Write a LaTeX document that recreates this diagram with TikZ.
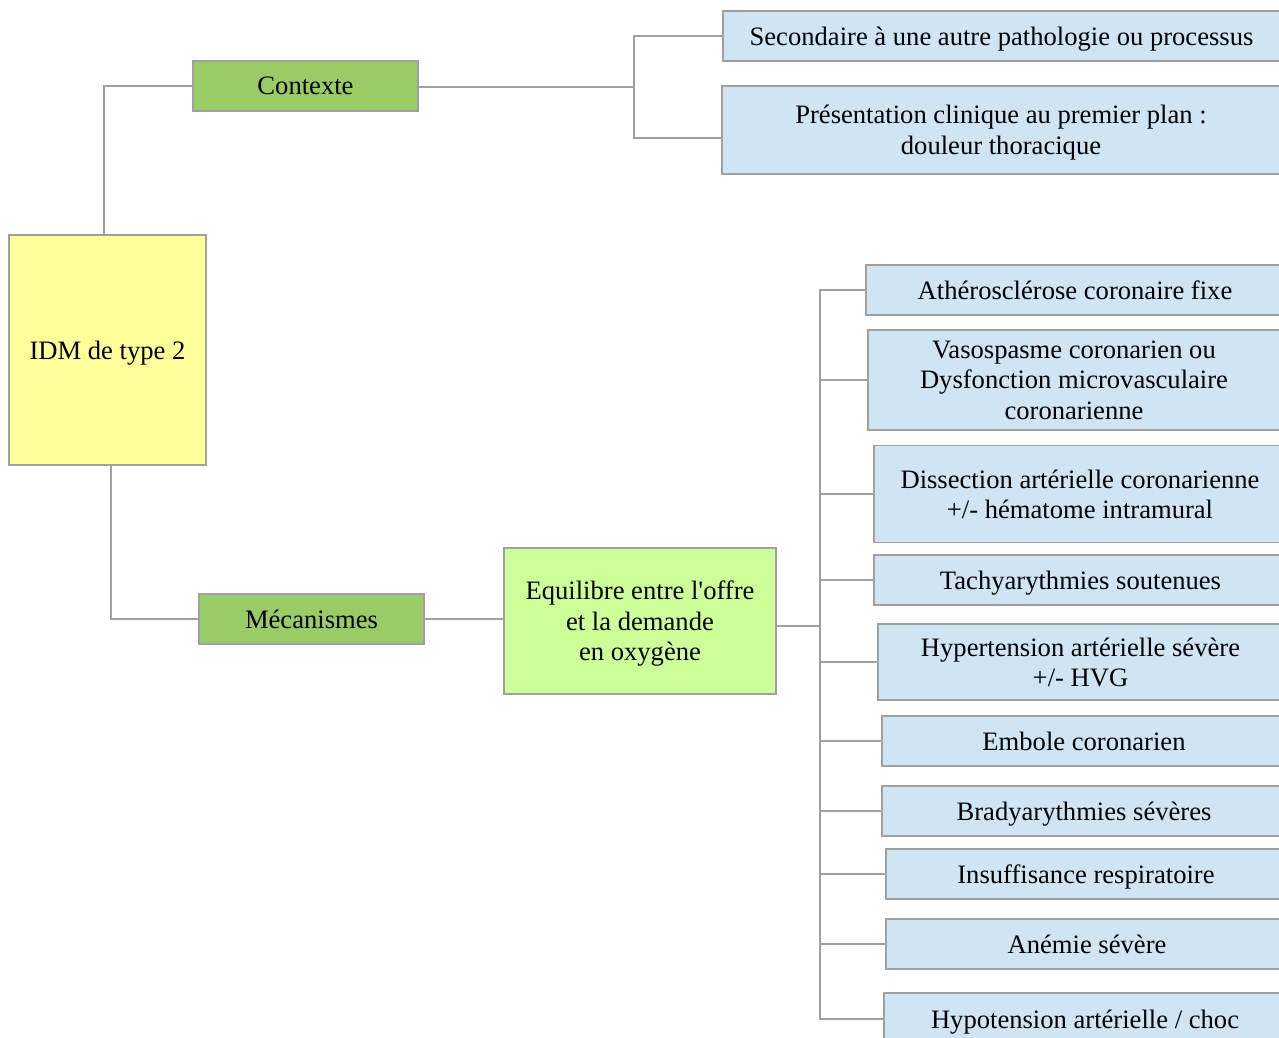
\documentclass[tikz,border=0pt]{standalone}
\usepackage{fontspec}
\setmainfont{Liberation Serif}
\usetikzlibrary{positioning,calc}
\definecolor{idmyellow}{HTML}{FFFF99}
\definecolor{ctxgreen}{HTML}{99CC66}
\definecolor{eqgreen}{HTML}{CCFF99}
\definecolor{leafblue}{HTML}{CFE5F3}
\definecolor{linegray}{HTML}{A0A0A0}

\begin{document}
\begin{tikzpicture}[x=1pt,y=-1pt,
		box/.style={draw=linegray, line width=1.2pt, align=center, inner sep=0pt, text depth=0pt, font=\fontsize{26.6}{30.5}\selectfont},
		rootbox/.style={box, fill=idmyellow},
		catbox/.style={box, fill=ctxgreen, minimum width=225pt, minimum height=50pt},
		eqbox/.style={box, fill=eqgreen},
		leaf/.style={box, fill=leafblue},
		link/.style={draw=linegray, line width=1.3pt}]
				\clip (0,0) rectangle (1279,1038);
				\node[rootbox, minimum width=197pt, minimum height=230pt] (root) at (107.5,350) {IDM de type 2};
				\node[catbox] (contexte) at (305.5,86) {Contexte};
				\node[catbox] (mecanismes) at (311.5,619) {Mécanismes};
				\node[eqbox, minimum width=272pt, minimum height=146pt] (equilibre) at (640,621) {Equilibre entre l\textquotesingle offre\\et la demande\\ en oxygène};
				\node[leaf, minimum width=557pt, minimum height=50pt] (secondaire) at (1001.5,36) {Secondaire à une autre pathologie ou processus};
				\node[leaf, minimum width=558pt, minimum height=88pt] (presentation) at (1001,130) {Présentation clinique au premier plan :\\douleur thoracique};
				\node[leaf, minimum width=418pt, minimum height=50pt] (athero) at (1075,290) {Athérosclérose coronaire fixe};
				\node[leaf, minimum width=412pt, minimum height=100pt] (vaso) at (1074,380) {Vasospasme coronarien ou\\Dysfonction microvasculaire\\coronarienne};
				\node[leaf, minimum width=412pt, minimum height=97pt] (dissection) at (1080,494) {Dissection artérielle coronarienne\\+/- hématome intramural};
				\node[leaf, minimum width=413pt, minimum height=50pt] (tachy) at (1080.5,580) {Tachyarythmies soutenues};
				\node[leaf, minimum width=405pt, minimum height=76pt] (hta) at (1080.5,662) {Hypertension artérielle sévère\\+/- HVG};
				\node[leaf, minimum width=404pt, minimum height=50pt] (embole) at (1084,741) {Embole coronarien};
				\node[leaf, minimum width=404pt, minimum height=50pt] (brady) at (1084,811) {Bradyarythmies sévères};
				\node[leaf, minimum width=400pt, minimum height=50pt] (insuff) at (1086,874) {Insuffisance respiratoire};
				\node[leaf, minimum width=402pt, minimum height=50pt] (anemie) at (1087,944) {Anémie sévère};
				\node[leaf, minimum width=402pt, minimum height=52pt] (hypotension) at (1085,1019) {Hypotension artérielle / choc};
				\coordinate (ctxbus) at (634,87);
				\coordinate (mecbus) at (820,626);
				\draw[link] ([xshift=-3.5pt]root.north) |- (contexte.west);
				\draw[link] ([xshift=3.5pt]root.south) |- (mecanismes.west);
				\draw[link] (mecanismes.east) -- (mecanismes.east -| equilibre.west);
				\draw[link] (contexte.east |- ctxbus) -- (ctxbus);
				\draw[link] (ctxbus) |- (secondaire.west);
				\draw[link] (ctxbus) |- ([yshift=-8pt]presentation.west);
				\draw[link] (equilibre.east |- mecbus) -- (mecbus);
				\foreach \n in {athero,vaso,dissection,tachy,hta,embole,brady,insuff,anemie,hypotension}
					\draw[link] (mecbus) |- (\n.west);
			\end{tikzpicture}
\end{document}
